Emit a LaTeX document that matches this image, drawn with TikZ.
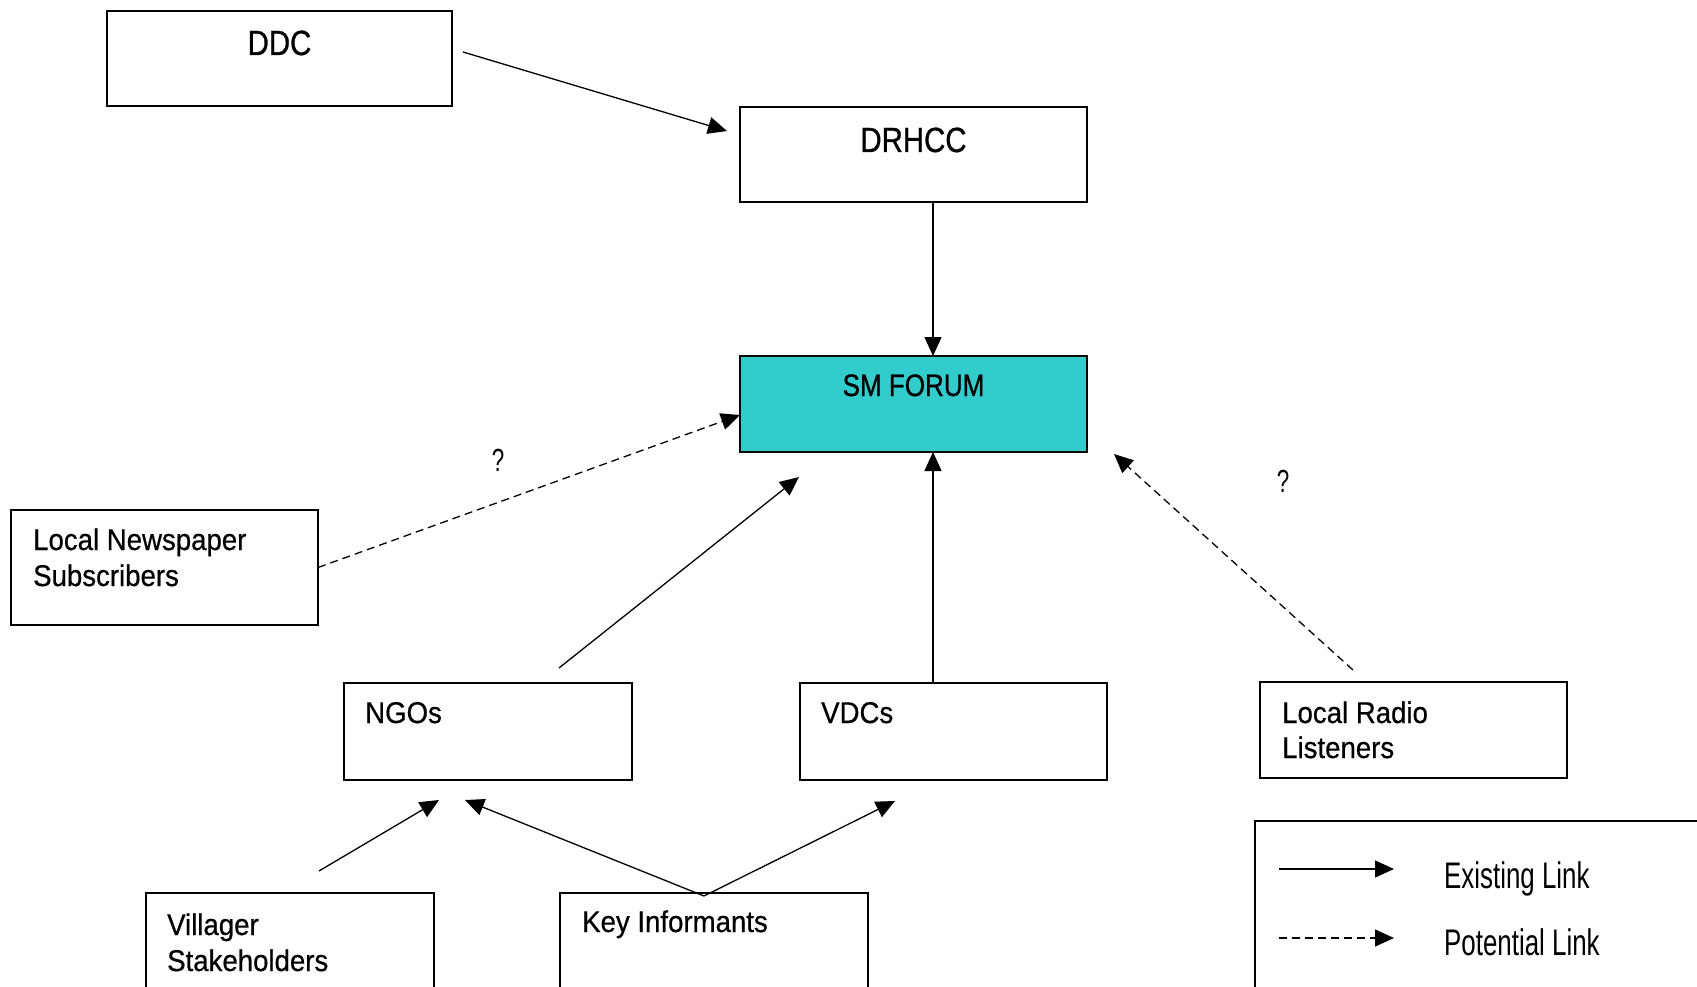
\documentclass[tikz,border=0pt]{standalone}
\usepackage{fontspec}
\setmainfont{Liberation Sans}
\newfontfamily\bodyfont[FakeStretch=0.92,FakeBold=0.6]{Liberation Sans}
\newfontfamily\headfont[FakeStretch=0.84,FakeBold=0.8]{Liberation Sans}
\newfontfamily\keyfont[FakeStretch=0.70]{Liberation Sans}
\usetikzlibrary{arrows.meta,calc}
\definecolor{forum}{HTML}{33CCCC}

\tikzset{
  box/.style={draw, line width=1.8pt, anchor=north west, inner sep=0pt, outer sep=0pt},
  body/.style={anchor=base west, inner sep=0pt, font=\bodyfont\fontsize{30}{36}\selectfont},
  head/.style={anchor=base, inner sep=0pt, font=\headfont\fontsize{35}{40}\selectfont},
  keytext/.style={anchor=base west, inner sep=0pt, font=\keyfont\fontsize{37}{42}\selectfont},
  query/.style={inner sep=0pt, font=\keyfont\fontsize{32}{36}\selectfont},
  link/.style={line width=1.3pt, -{Triangle[length=19pt,width=17pt]}},
  maybe/.style={link, dash pattern=on 8pt off 5pt},
}

\begin{document}
\begin{tikzpicture}[x=1pt, y=-1pt]
\useasboundingbox (0,0) rectangle (1697,987);
\clip (0,0) rectangle (1697,987);

% organisation boxes
\node[box, minimum width=345pt, minimum height=95pt] (ddc) at (107,11) {};
\node[box, minimum width=347pt, minimum height=95pt] (drhcc) at (740,107) {};
\node[box, fill=forum, minimum width=347pt, minimum height=96pt] (sm) at (740,356) {};
\node[box, minimum width=307pt, minimum height=115pt] (news) at (11,510) {};
\node[box, minimum width=288pt, minimum height=97pt] (ngo) at (344,683) {};
\node[box, minimum width=307pt, minimum height=97pt] (vdc) at (800,683) {};
\node[box, minimum width=307pt, minimum height=96pt] (radio) at (1260,682) {};
\node[box, minimum width=288pt, minimum height=120pt] (vill) at (146,893) {};
\node[box, minimum width=308pt, minimum height=120pt] (ki) at (560,893) {};
\node[box, minimum width=470pt, minimum height=190pt] (legend) at (1255,821) {};

% box texts
\node[head] (ddcT) at (279.5,55) {DDC};
\node[head] (drhccT) at (913.5,152) {DRHCC};
\node[head, font=\headfont\fontsize{31}{36}\selectfont] (smT) at (913.5,396) {SM FORUM};
\node[body] (newsT1) at (33,550) {Local Newspaper};
\node[body] (newsT2) at (33,586) {Subscribers};
\node[body] (ngoT) at (365,723) {NGOs};
\node[body] (vdcT) at (821,723) {VDCs};
\node[body] (radioT1) at (1282,723) {Local Radio};
\node[body] (radioT2) at (1282,758) {Listeners};
\node[body] (villT1) at (167,935) {Villager};
\node[body] (villT2) at (167,971) {Stakeholders};
\node[body] (kiT) at (582,932) {Key Informants};

% existing links
\draw[link] ($(ddc.north east)+(11,41)$) -- ($(drhcc.north west)+(-13,24)$);
\draw[link] ($(drhcc.south west)+(193,0)$) -- ($(sm.north west)+(193,0)$);
\draw[link] ($(ngo.north west)+(215,-15)$) -- ($(sm.south west)+(59,25)$);
\draw[link] ($(vdc.north west)+(133,0)$) -- ($(sm.south west)+(193,0)$);
\draw[link] ($(vill.north west)+(173,-22)$) -- ($(ngo.south west)+(95,20)$);
\draw[link] ($(ki.north)+(-10,3)$) -- ($(ngo.south west)+(121,20)$);
\draw[link] ($(ki.north)+(-10,3)$) -- ($(vdc.south west)+(95,21)$);

% potential links
\draw[maybe] (news.east) -- ($(sm.west)+(0,11)$);
\draw[maybe] ($(radio.north west)+(93,-12)$) -- ($(sm.south east)+(27,2)$);
\node[query] (q1) at (498,460) {?};
\node[query] (q2) at (1283,481) {?};

% key
\draw[link] ($(legend.north west)+(24,48)$) -- ($(legend.north west)+(139,48)$);
\draw[maybe] ($(legend.north west)+(24,117)$) -- ($(legend.north west)+(139,117)$);
\node[keytext] (keyE) at (1444,888) {Existing Link};
\node[keytext] (keyP) at (1444,955) {Potential Link};
\end{tikzpicture}
\end{document}
